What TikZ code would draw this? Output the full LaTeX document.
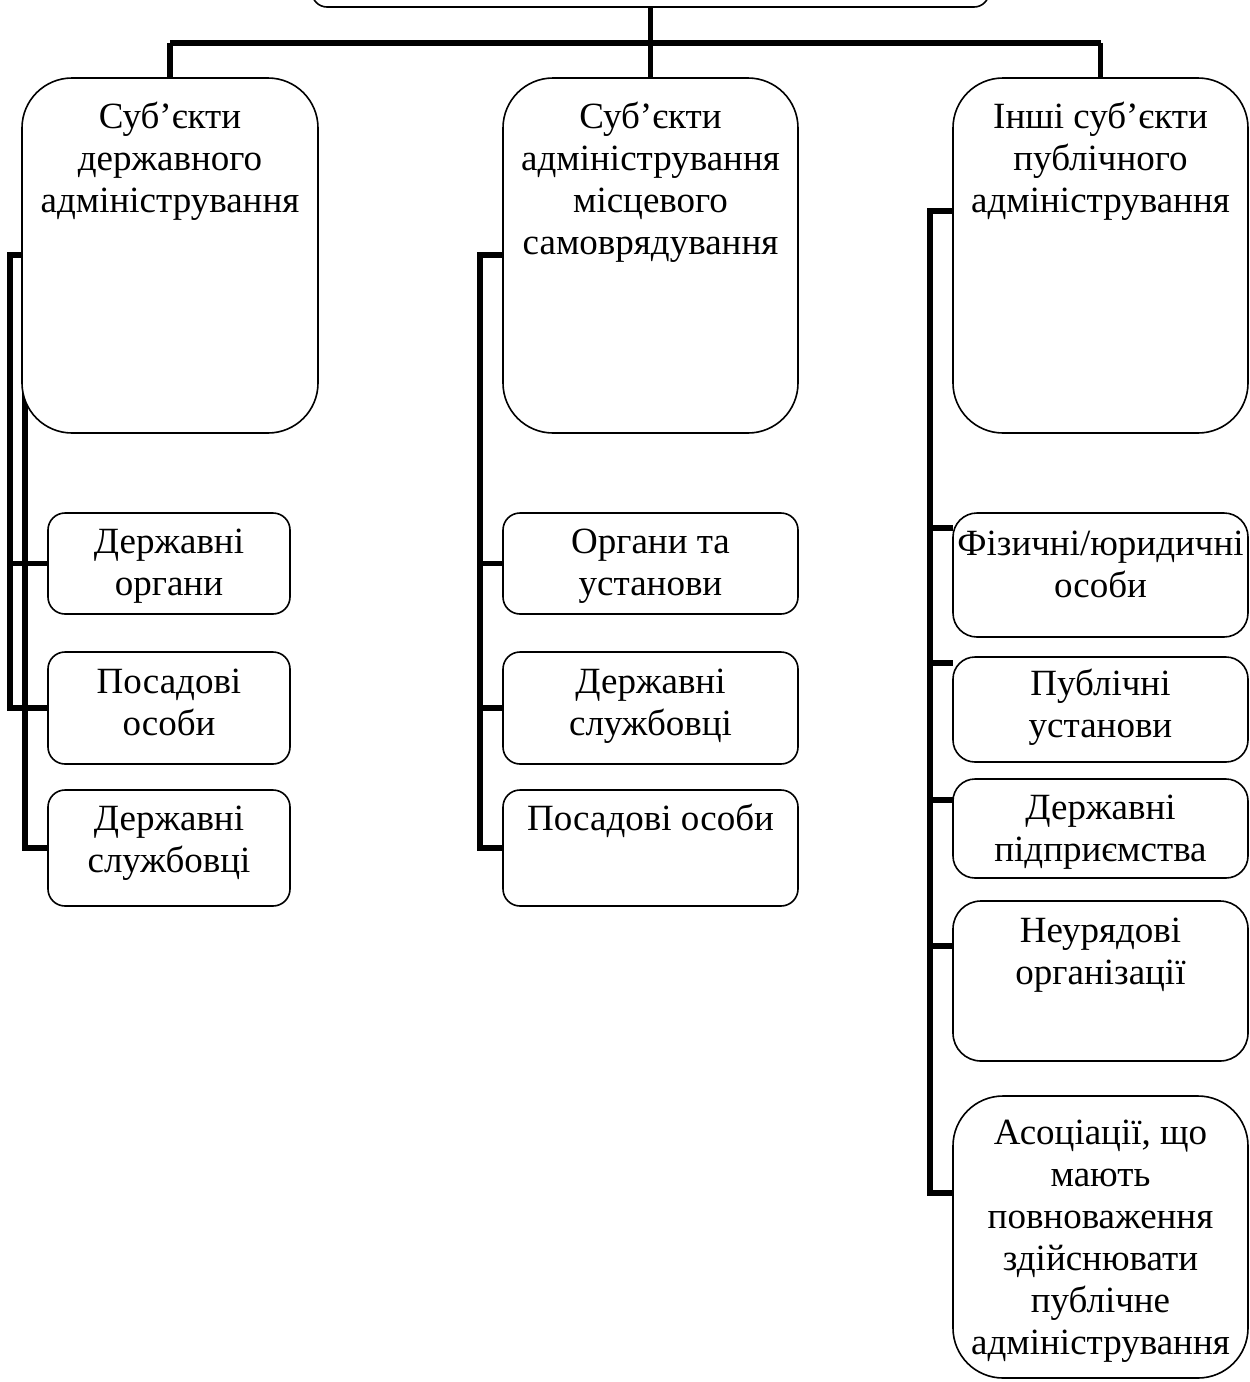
\documentclass[tikz,border=0pt]{standalone}
\usepackage{fontspec}
\setmainfont{Liberation Serif}
\usetikzlibrary{backgrounds}
\begin{document}
\begin{tikzpicture}[x=1pt,y=-1pt,
  box/.style={draw=black, line width=1.6pt, fill=white, inner sep=0pt, outer sep=0pt, anchor=north west},
  txt/.style={align=center, inner sep=0pt, anchor=base, font=\fontsize{37}{42}\selectfont},
  bar/.style={line width=6.5pt},
  conn/.style={line width=5.5pt, line join=miter}]
\useasboundingbox (0,0) rectangle (1250,1382);
% top (cut off) box
\node[box, rounded corners=15pt, minimum width=677pt, minimum height=70pt] (T) at (312,-63) {};
% main boxes
\node[box, rounded corners=50pt, minimum width=296pt, minimum height=355pt] (L) at (22,78) {};
\node[box, rounded corners=50pt, minimum width=295pt, minimum height=355pt] (M) at (503,78) {};
\node[box, rounded corners=50pt, minimum width=295pt, minimum height=355pt] (R) at (953,78) {};
% left children
\node[box, rounded corners=17pt, minimum width=242pt, minimum height=101pt] (L1) at (48,513) {};
\node[box, rounded corners=17pt, minimum width=242pt, minimum height=112pt] (L2) at (48,652) {};
\node[box, rounded corners=17pt, minimum width=242pt, minimum height=116pt] (L3) at (48,790) {};
% middle children
\node[box, rounded corners=17pt, minimum width=295pt, minimum height=101pt] (M1) at (503,513) {};
\node[box, rounded corners=17pt, minimum width=295pt, minimum height=112pt] (M2) at (503,652) {};
\node[box, rounded corners=17pt, minimum width=295pt, minimum height=116pt] (M3) at (503,790) {};
% right children
\node[box, rounded corners=24pt, minimum width=295pt, minimum height=124pt] (R1) at (953,513) {};
\node[box, rounded corners=22pt, minimum width=295pt, minimum height=105pt] (R2) at (953,657) {};
\node[box, rounded corners=22pt, minimum width=295pt, minimum height=99pt] (R3) at (953,779) {};
\node[box, rounded corners=28pt, minimum width=295pt, minimum height=160pt] (R4) at (953,901) {};
\node[box, rounded corners=50pt, minimum width=295pt, minimum height=282pt] (R5) at (953,1096) {};

% texts (anchor base = baseline of the last line)
\node[txt] (tL) at ([yshift=-134pt]L.north) {Суб’єкти\\державного\\адміністрування};
\node[txt] (tM) at ([yshift=-176pt]M.north) {Суб’єкти\\адміністрування\\місцевого\\самоврядування};
\node[txt] (tR) at ([yshift=-134pt]R.north) {Інші суб’єкти\\публічного\\адміністрування};
\node[txt] (tL1) at ([yshift=-82pt]L1.north) {Державні\\органи};
\node[txt] (tL2) at ([yshift=-83pt]L2.north) {Посадові\\особи};
\node[txt] (tL3) at ([yshift=-82pt]L3.north) {Державні\\службовці};
\node[txt] (tM1) at ([yshift=-82pt]M1.north) {Органи та\\установи};
\node[txt] (tM2) at ([yshift=-83pt]M2.north) {Державні\\службовці};
\node[txt] (tM3) at ([yshift=-40pt]M3.north) {Посадові особи};
\node[txt] (tR1) at ([yshift=-84pt]R1.north) {Фізичні/юридичні\\особи};
\node[txt] (tR2) at ([yshift=-80pt]R2.north) {Публічні\\установи};
\node[txt] (tR3) at ([yshift=-82pt]R3.north) {Державні\\підприємства};
\node[txt] (tR4) at ([yshift=-83pt]R4.north) {Неурядові\\організації};
\node[txt] (tR5) at ([yshift=-258pt]R5.north) {Асоціації, що\\мають\\повноваження\\здійснювати\\публічне\\адміністрування};

% connectors behind boxes
\begin{pgfonlayer}{background}
  \coordinate (hub) at (T.south |- 0,43);
  \draw[conn] (T.south) -- (hub);
  \draw[bar] (L.north |- hub) -- (R.north |- hub);
  \draw[conn] (hub) -- (M.north);
  \draw[conn] (L.north |- hub) -- (L.north);
  \draw[conn] (R.north |- hub) -- (R.north);
  % left
  \coordinate (lo) at (10,255);
  \coordinate (li) at (25,255);
  \draw[conn] (L.west |- lo) -- (lo) -- (lo |- L2.west) -- (L2.west);
  \draw[conn] (lo |- L1.west) -- (L1.west);
  \draw[conn] (li) -- (li |- L3.west) -- (L3.west);
  % middle
  \coordinate (mo) at (480,255);
  \draw[conn] (M.west |- mo) -- (mo) -- (mo |- M3.west) -- (M3.west);
  \draw[conn] (mo |- M1.west) -- (M1.west);
  \draw[conn] (mo |- M2.west) -- (M2.west);
  % right
  \coordinate (ro) at (930,211);
  \draw[conn] (R.west |- ro) -- (ro) -- (ro |- 0,1193) -- (R5.west |- 0,1193);
  \draw[conn] (ro |- 0,528) -- (R1.west |- 0,528);
  \draw[conn] (ro |- 0,663) -- (R2.west |- 0,663);
  \draw[conn] (ro |- 0,800) -- (R3.west |- 0,800);
  \draw[conn] (ro |- 0,946) -- (R4.west |- 0,946);
\end{pgfonlayer}
\end{tikzpicture}
\end{document}
